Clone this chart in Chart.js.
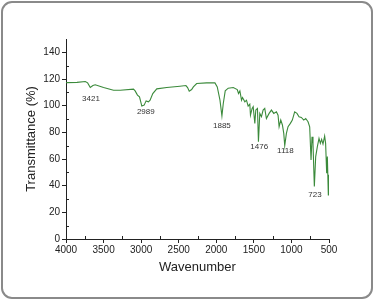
<!DOCTYPE html>
<html>
<head>
<meta charset="utf-8">
<script src="https://cdn.jsdelivr.net/npm/chart.js@4.4.1/dist/chart.umd.min.js"></script>
<style>
  html, body { margin: 0; padding: 0; background: #fff; }
  #wrap { position: relative; width: 374px; height: 302px; }
  #frame {
    position: absolute; left: 1px; top: 1px; width: 368px; height: 294px;
    border: 2px solid #8a8a8a; border-radius: 11px; pointer-events: none;
  }
  canvas { position: absolute; left: 0; top: 0; }
</style>
</head>
<body>
<div id="wrap">
  <canvas id="irChart" width="374" height="302"></canvas>
  <div id="frame"></div>
</div>
<script>
// spectrum
const wavenumbers = [4000, 3854, 3743, 3712, 3677, 3642, 3611, 3500, 3367, 3279, 3102, 3080, 3049, 3022, 2991, 2960, 2934, 2903, 2881, 2845, 2792, 2659, 2484, 2404, 2382, 2360, 2328, 2305, 2261, 2129, 2018, 1987, 1951, 1925, 1907, 1881, 1841, 1774, 1721, 1704, 1686, 1664, 1651, 1620, 1598, 1576, 1554, 1545, 1523, 1509, 1487, 1474, 1452, 1439, 1421, 1399, 1377, 1355, 1333, 1297, 1266, 1235, 1200, 1178, 1164, 1142, 1120, 1102, 1089, 1067, 1045, 1014, 988, 957, 926, 899, 868, 836, 810, 779, 757, 739, 726, 713, 695, 677, 655, 633, 615, 598, 580, 558, 545, 531, 522, 509, 503];
const transmittance = [117.3, 117.5, 118.1, 117.1, 113.6, 115.1, 115.7, 113.6, 111.6, 111.6, 112.4, 111.1, 107.9, 106.6, 99.7, 100.4, 103.6, 102.9, 104.1, 109.1, 112.6, 113.6, 114.6, 115.1, 113.6, 110.9, 112.1, 114.1, 116.6, 117.1, 117.1, 114.1, 104.1, 92.2, 101.6, 111.1, 113.1, 113.6, 112.1, 109.1, 111.1, 104.1, 106.1, 102.9, 104.1, 99.7, 101.1, 92.9, 97.9, 99.2, 86.7, 96.7, 97.9, 73.0, 94.2, 91.7, 96.7, 97.9, 90.4, 94.2, 96.7, 94.2, 95.4, 92.9, 84.2, 89.2, 85.5, 79.2, 70.0, 79.2, 84.2, 86.7, 89.2, 95.4, 94.2, 91.7, 91.2, 89.2, 90.4, 87.9, 84.2, 59.3, 76.7, 71.7, 39.4, 61.8, 69.3, 75.5, 71.7, 74.7, 71.2, 77.2, 71.7, 49.3, 61.8, 33.1, 48.1];

// peak labels and where they sit on the plot
const peakLabels = ["3421", "2989", "1885", "1476", "1118", "723"];
const peakLabelX = [3668, 2938, 1925, 1429, 1080, 686];
const peakLabelY = [104.9, 95.2, 84.7, 68.8, 65.8, 32.9];

const xTicks = [4000, 3500, 3000, 2500, 2000, 1500, 1000, 500];
const yTicks = [0, 20, 40, 60, 80, 100, 120, 140];

const points = wavenumbers.map((w, i) => ({ x: w, y: transmittance[i] }));

const peakLabelPlugin = {
  id: "peakLabels",
  afterDatasetsDraw(chart) {
    const { ctx, scales } = chart;
    ctx.save();
    ctx.font = "8px 'Liberation Sans', Arial, sans-serif";
    ctx.fillStyle = "#333";
    ctx.textAlign = "center";
    ctx.textBaseline = "middle";
    peakLabels.forEach((t, i) => {
      ctx.fillText(t, scales.x.getPixelForValue(peakLabelX[i]), scales.y.getPixelForValue(peakLabelY[i]));
    });
    ctx.restore();
  }
};

// small inward minor ticks, Origin style
const minorTickPlugin = {
  id: "minorTicks",
  afterDraw(chart) {
    const { ctx, scales, chartArea } = chart;
    ctx.save();
    ctx.strokeStyle = "#222";
    ctx.lineWidth = 1;
    ctx.beginPath();
    for (let v = 750; v < 4000; v += 500) {
      const px = Math.round(scales.x.getPixelForValue(v)) + 0.5;
      ctx.moveTo(px, chartArea.bottom);
      ctx.lineTo(px, chartArea.bottom - 3);
    }
    for (let v = 10; v < 150; v += 20) {
      const py = Math.round(scales.y.getPixelForValue(v)) + 0.5;
      ctx.moveTo(chartArea.left, py);
      ctx.lineTo(chartArea.left + 3, py);
    }
    ctx.stroke();
    ctx.restore();
  }
};

new Chart(document.getElementById("irChart"), {
  type: "line",
  data: {
    datasets: [{
      data: points,
      borderColor: "#3b8a3b",
      borderWidth: 1.1,
      pointRadius: 0,
      tension: 0
    }]
  },
  options: {
    responsive: false,
    animation: false,
    layout: { padding: { left: 0, top: 39, right: 45, bottom: 0 } },
    plugins: { legend: { display: false }, tooltip: { enabled: false } },
    scales: {
      x: {
        type: "linear",
        reverse: true,
        min: 500,
        max: 4000,
        afterFit: (s) => { s.height = 63; },
        afterBuildTicks: (s) => { s.ticks = xTicks.map(v => ({ value: v })); },
        ticks: {
          color: "#222",
          font: { size: 10, family: "'Liberation Sans', Arial, sans-serif" },
          padding: 1,
          maxRotation: 0,
          callback: (v) => String(v)
        },
        grid: { drawOnChartArea: false, tickLength: 4, color: "#222", tickWidth: 1 },
        border: { color: "#222", width: 1 },
        title: {
          display: true,
          text: "Wavenumber",
          color: "#222",
          font: { size: 13, family: "'Liberation Sans', Arial, sans-serif" },
          padding: { top: 0, bottom: 27 }
        }
      },
      y: {
        min: 0,
        max: 150,
        afterFit: (s) => { s.width = 66; },
        afterBuildTicks: (s) => { s.ticks = yTicks.map(v => ({ value: v })); },
        ticks: {
          color: "#222",
          font: { size: 10, family: "'Liberation Sans', Arial, sans-serif" },
          padding: 2,
          callback: (v) => String(v)
        },
        grid: { drawOnChartArea: false, tickLength: 4, color: "#222", tickWidth: 1 },
        border: { color: "#222", width: 1 },
        title: {
          display: true,
          text: "Transmittance (%)",
          color: "#222",
          font: { size: 13, family: "'Liberation Sans', Arial, sans-serif" },
          padding: { top: 24, bottom: 0 }
        }
      }
    }
  },
  plugins: [peakLabelPlugin, minorTickPlugin]
});
</script>
</body>
</html>
